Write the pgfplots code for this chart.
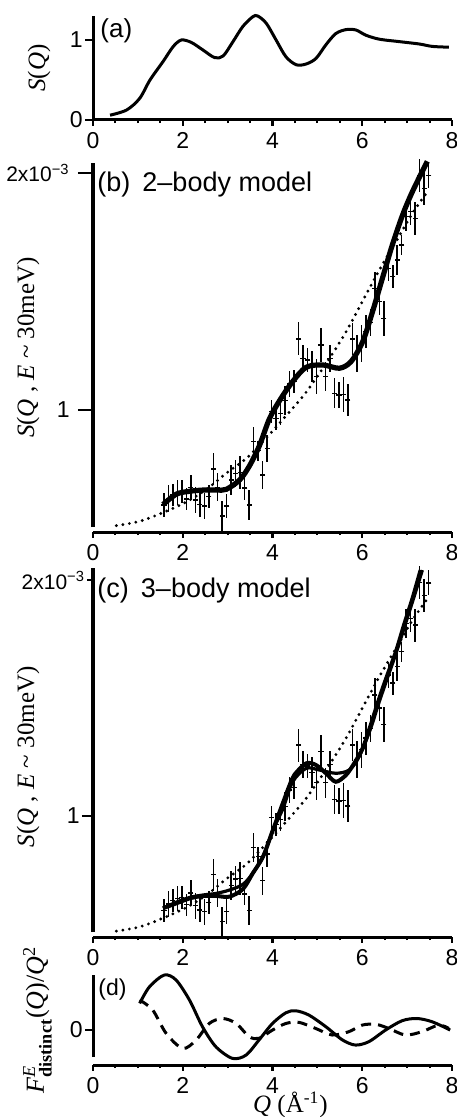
\documentclass[border=0pt]{standalone}
\usepackage{amsmath}
\usepackage{fontspec}
\setmainfont{Liberation Serif}
\setsansfont{Liberation Sans}
\usepackage{pgfplots}
\usepackage{pgfplotstable}
\pgfplotsset{compat=1.18}

\pgfplotstableread{
Q S e
1.58 0.599 0.049
1.68 0.627 0.056
1.78 0.641 0.048
1.88 0.651 0.052
1.98 0.655 0.049
2.08 0.624 0.046
2.18 0.674 0.053
2.28 0.620 0.055
2.38 0.602 0.053
2.48 0.595 0.055
2.58 0.634 0.049
2.68 0.751 0.068
2.78 0.674 0.059
2.88 0.553 0.062
2.98 0.595 0.052
3.08 0.705 0.063
3.18 0.733 0.056
3.28 0.735 0.070
3.38 0.670 0.049
3.48 0.599 0.063
3.58 0.866 0.063
3.68 0.828 0.042
3.78 0.726 0.059
3.88 0.838 0.056
3.98 0.993 0.049
4.08 0.965 0.049
4.18 0.985 0.050
4.28 1.040 0.060
4.38 1.110 0.056
4.48 1.120 0.050
4.58 1.300 0.070
4.68 1.218 0.056
4.78 1.211 0.050
4.88 1.183 0.065
4.98 1.141 0.075
5.08 1.274 0.070
5.18 1.141 0.063
5.28 1.218 0.056
5.38 1.070 0.063
5.48 1.063 0.056
5.58 1.066 0.074
5.68 1.042 0.067
5.78 1.300 0.067
5.88 1.239 0.077
5.98 1.281 0.077
6.08 1.330 0.070
6.18 1.370 0.056
6.28 1.513 0.070
6.38 1.457 0.056
6.48 1.387 0.074
6.58 1.598 0.056
6.68 1.563 0.049
6.78 1.633 0.063
6.88 1.696 0.042
6.98 1.816 0.063
7.08 1.837 0.056
7.18 1.809 0.070
7.28 1.990 0.070
7.38 1.935 0.070
7.48 1.988 0.053
}\dataE

\pgfplotsset{
  panel/.style={
    scale only axis, width=179.5pt,
    xmin=0, xmax=8,
    axis lines=left,
    x axis line style={-, line width=1.5pt},
    y axis line style={draw=none},
    xtick={0,2,4,6,8}, xticklabels={0,2,4,6,8},
    minor x tick num=3,
    tick align=outside,
    major tick length=2.8pt, minor tick length=1.6pt,
    tick style={black, line width=1.2pt},
    minor tick style={line width=1pt},
    tick label style={font=\sffamily\fontsize{11.5}{13}\selectfont},
    yticklabel style={inner sep=1pt},
    ytick=\empty,
    clip=false,
    ylabel style={anchor=center, font=\fontsize{12.5}{14}\selectfont},
  },
  dotcurve/.style={black, line width=1.6pt, line cap=round, dash pattern=on 0pt off 3.3pt, smooth},
  ebars/.style={black, only marks, mark=-, mark size=1.3pt, mark options={line width=0.7pt},
    error bars/.cd, y dir=both, y explicit, error mark=none,
    error bar style={line width=0.75pt}},
}
\tikzset{ptlabel/.style={anchor=north west, inner sep=0pt, font=\sffamily\fontsize{13.5}{15}\selectfont}}
\newcommand{\twoE}{{\fontsize{10.5}{12}\selectfont 2x10\textsuperscript{−3}}}

\begin{document}
\begin{tikzpicture}
\useasboundingbox (0,0) rectangle (228pt,-558.5pt);

% ---------------- (a)
\begin{axis}[panel, at={(46.5pt,-60pt)}, anchor=south west, height=52pt,
  ymin=0, ymax=1.3,
  extra y ticks={0,1}, extra y tick labels={0,1},
  extra y tick style={major tick length=4pt},
  ylabel={\textit{S}(\textit{Q})},
  ylabel style={at={(axis description cs:-0.150,0.5)}}]
\draw[line width=1.5pt] (axis cs:0,0) -- (axis cs:0,1.3);
\addplot[black, line width=1.5pt, smooth] coordinates {
(0.38,0.06) (0.75,0.125) (1.04,0.27) (1.27,0.5) (1.56,0.73) (1.79,0.92) (1.97,1.0)
(2.19,0.97) (2.45,0.875) (2.71,0.78) (2.9,0.80) (3.12,0.98) (3.34,1.17) (3.56,1.29)
(3.67,1.30) (3.86,1.21) (4.08,1.0) (4.3,0.79) (4.53,0.69) (4.75,0.70) (4.97,0.77)
(5.19,0.94) (5.41,1.08) (5.64,1.13) (5.86,1.125) (6.08,1.06) (6.38,1.01) (6.82,0.98)
(7.27,0.95) (7.56,0.92) (7.93,0.91)};
\node[ptlabel, font=\sffamily\fontsize{13}{15}\selectfont] at (axis description cs:0.0195,0.981) {(a)};
\end{axis}

% ---------------- (b)
\begin{axis}[panel, at={(46.5pt,-266pt)}, anchor=south west, height=184.5pt,
  ymin=0.485, ymax=2.042,
  extra y ticks={1,2}, extra y tick labels={1,\twoE},
  extra y tick style={major tick length=7.5pt, yticklabel style={xshift=-3pt}},
  ylabel={\textit{S}(\textit{Q} , \textit{E} \textasciitilde\ 30meV)},
  ylabel style={at={(axis description cs:-0.181,0.5)}}]
\draw[line width=1.5pt] (axis cs:0,0.506) -- (axis cs:0,2.042);
\addplot[dotcurve] coordinates {
(0.52,0.512) (1.04,0.53) (1.56,0.567) (2.08,0.612) (2.53,0.665) (2.97,0.733) (3.42,0.796)
(3.86,0.882) (4.3,0.975) (4.75,1.075) (5.27,1.218) (5.64,1.33) (6.01,1.46) (6.38,1.59)
(6.75,1.71) (7.12,1.83) (7.45,1.92)};
\addplot[ebars] table[x=Q, y=S, y error=e] {\dataE};
\addplot[black, line width=2.6pt, smooth] coordinates {
(1.56,0.601) (1.86,0.645) (2.16,0.657) (2.45,0.662) (2.75,0.662) (2.97,0.665) (3.27,0.705)
(3.49,0.765) (3.71,0.85) (3.93,0.962) (4.16,1.04) (4.45,1.12) (4.75,1.18) (5.12,1.19)
(5.49,1.176) (5.75,1.204) (6.01,1.288) (6.23,1.415) (6.45,1.556) (6.67,1.696) (6.90,1.823)
(7.12,1.922) (7.45,2.049)};
\node[ptlabel] at (axis description cs:0.011,0.976) {(b)\hspace{0.45em}2–body model};
\end{axis}

% ---------------- (c)
\begin{axis}[panel, at={(46.5pt,-468.5pt)}, anchor=south west, height=184.5pt,
  ymin=0.487, ymax=2.051,
  ytick={2}, yticklabels={\twoE},
  extra y ticks={1}, extra y tick labels={1},
  extra y tick style={major tick length=5.5pt},
  ylabel={\textit{S}(\textit{Q} , \textit{E} \textasciitilde\ 30meV)},
  ylabel style={at={(axis description cs:-0.181,0.488)}}]
\draw[line width=1.5pt] (axis cs:0,0.508) -- (axis cs:0,2.051);
\addplot[dotcurve] coordinates {
(0.52,0.512) (1.04,0.53) (1.56,0.567) (2.08,0.612) (2.53,0.665) (2.97,0.733) (3.42,0.796)
(3.86,0.882) (4.3,0.975) (4.75,1.075) (5.27,1.218) (5.64,1.33) (6.01,1.46) (6.38,1.59)
(6.75,1.71) (7.12,1.83) (7.45,1.92)};
\addplot[ebars] table[x=Q, y=S, y error=e] {\dataE};
\addplot[black, line width=1.6pt, smooth] coordinates {
(1.56,0.609) (1.86,0.635) (2.16,0.655) (2.45,0.665) (2.75,0.672) (3.04,0.686) (3.34,0.71)
(3.56,0.757) (3.79,0.828) (4.01,0.941) (4.23,1.03) (4.45,1.145) (4.75,1.202) (5.04,1.195)
(5.41,1.181) (5.71,1.195) (5.93,1.251) (6.19,1.372) (6.38,1.485) (6.75,1.689) (7.12,1.908)
(7.34,2.042)};
\addplot[black, line width=2pt, smooth] coordinates {
(1.56,0.609) (1.86,0.63) (2.16,0.651) (2.45,0.661) (2.75,0.661) (3.04,0.658) (3.34,0.69)
(3.56,0.757) (3.79,0.828) (4.01,0.941) (4.23,1.054) (4.38,1.13) (4.49,1.175) (4.75,1.223)
(4.97,1.216) (5.19,1.181) (5.41,1.145) (5.64,1.174) (5.82,1.223) (6.01,1.287) (6.19,1.386)
(6.38,1.499) (6.56,1.597) (6.75,1.696) (6.93,1.809) (7.12,1.922) (7.30,2.042)};
\node[ptlabel] at (axis description cs:0.011,0.973) {(c)\hspace{0.45em}3–body model};
\end{axis}

% ---------------- (d)
\begin{axis}[panel, at={(46.5pt,-532.5pt)}, anchor=south west, height=45pt,
  ymin=-1.27, ymax=2.0,
  extra y ticks={0}, extra y tick labels={0},
  extra y tick style={major tick length=4pt},
  ylabel={\textit{F}$^{\text{\itshape E}}_{\text{\bfseries distinct}}$(\textit{Q})/\textit{Q}\textsuperscript{2}},
  ylabel style={at={(axis description cs:-0.155,0.5)}, font=\fontsize{13}{15}\selectfont},
  xlabel={\textit{Q} (Å\textsuperscript{-1})},
  xlabel style={at={(axis description cs:0.55,0)}, anchor=north, yshift=-10pt, font=\fontsize{12.5}{14}\selectfont}]
\draw[line width=1.5pt] (axis cs:0,-0.98) -- (axis cs:0,2.0);
\addplot[black, line width=1.5pt, smooth] coordinates {
(1.04,0.97) (1.26,1.575) (1.59,2.0) (1.85,1.82) (2.15,1.09) (2.44,0.12) (2.74,-0.61)
(3.11,-1.03) (3.41,-0.91) (3.70,-0.36) (4.0,0.24) (4.30,0.63) (4.52,0.70) (4.81,0.545)
(5.19,0.12) (5.56,-0.36) (5.85,-0.545) (6.15,-0.42) (6.52,0.0) (6.89,0.34) (7.22,0.42)
(7.56,0.30) (7.96,0.0)};
\addplot[black, line width=1.5pt, smooth, dash pattern=on 5pt off 3.5pt] coordinates {
(1.04,1.09) (1.33,0.73) (1.63,-0.12) (2.0,-0.67) (2.30,-0.36) (2.59,0.24) (2.89,0.42)
(3.19,0.24) (3.48,-0.24) (3.70,-0.30) (4.0,0.0) (4.30,0.24) (4.59,0.28) (4.96,0.06)
(5.33,-0.18) (5.70,-0.06) (6.0,0.18) (6.30,0.21) (6.59,0.06) (6.96,-0.18) (7.33,-0.06)
(7.70,0.18) (7.93,0.06)};
\node[ptlabel, font=\sffamily\fontsize{11.5}{13}\selectfont] at (axis description cs:0.014,0.967) {(d)};
\end{axis}
\end{tikzpicture}
\end{document}
